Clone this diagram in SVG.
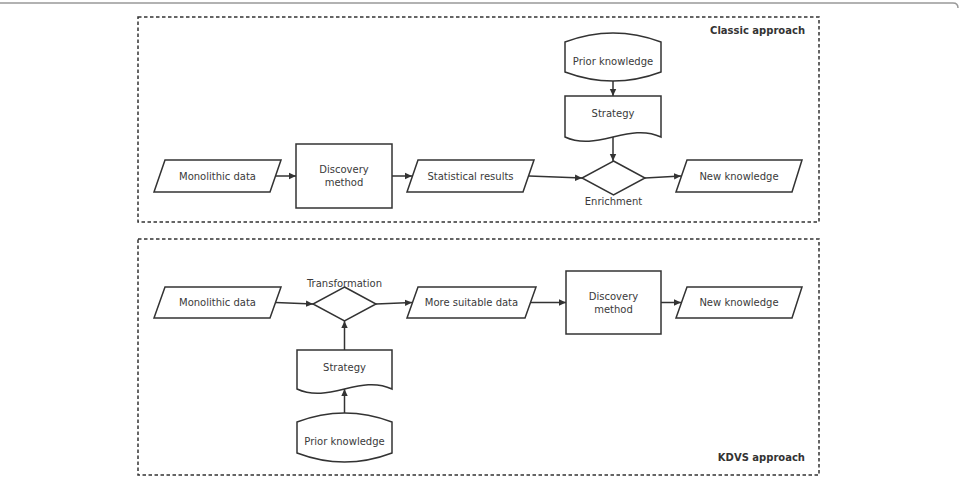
<svg xmlns="http://www.w3.org/2000/svg" width="960" height="480" viewBox="0 0 960 480">
<defs>
<marker id="ah" markerWidth="8" markerHeight="8" refX="7" refY="4" orient="auto" markerUnits="userSpaceOnUse">
<path d="M0,0.8 L7,4 L0,7.2 Z" fill="#333"/>
</marker>
<style>
.sh{fill:#fff;stroke:#333;stroke-width:1.5}
.pn{fill:none;stroke:#333;stroke-width:1.5;stroke-dasharray:3.5 2.5}
.cn{fill:none;stroke:#333;stroke-width:1.5;marker-end:url(#ah)}
.t{font-family:"DejaVu Sans",sans-serif;font-size:10px;fill:#3a3a3a;text-anchor:middle}
.b{font-family:"DejaVu Sans",sans-serif;font-size:10px;font-weight:bold;fill:#333;text-anchor:end}
</style>
</defs>
<path d="M0,3 L953,3 Q958,3 958,8" fill="none" stroke="#999" stroke-width="1.5"/>
<g id="panel-classic">
<rect class="pn" x="138" y="17" width="681" height="205"/>
<text class="b" x="805" y="33.5">Classic approach</text>
</g>
<g id="panel-kdvs">
<rect class="pn" x="138" y="239" width="681" height="236"/>
<text class="b" x="805" y="460.5">KDVS approach</text>
</g>
<g id="connectors">
<line class="cn" x1="275" y1="176" x2="296" y2="176"/>
<line class="cn" x1="392" y1="176" x2="412" y2="176"/>
<line class="cn" x1="529" y1="176" x2="582" y2="178"/>
<line class="cn" x1="645" y1="178" x2="681" y2="176"/>
<line class="cn" x1="613" y1="81" x2="613" y2="96"/>
<line class="cn" x1="613" y1="137" x2="613" y2="161"/>
<line class="cn" x1="275.5" y1="302.5" x2="313" y2="304"/>
<line class="cn" x1="376" y1="304" x2="412" y2="302.5"/>
<line class="cn" x1="530.5" y1="302.5" x2="566" y2="302.5"/>
<line class="cn" x1="661" y1="302.5" x2="681" y2="302.5"/>
<line class="cn" x1="344.5" y1="350" x2="344.5" y2="321"/>
<line class="cn" x1="344.5" y1="413" x2="344.5" y2="389"/>
</g>
<g id="c-monolithic">
<path class="sh" d="M165,160 L281,160 L270,192 L154,192 Z"/>
<text class="t" x="217.5" y="179.5">Monolithic data</text>
</g>
<g id="c-discovery">
<rect class="sh" x="296" y="144" width="96" height="64"/>
<text class="t" x="344" y="172.5">Discovery</text>
<text class="t" x="344" y="185.5">method</text>
</g>
<g id="c-statistical">
<path class="sh" d="M418,160 L534,160 L523,192 L407,192 Z"/>
<text class="t" x="470.5" y="179.5">Statistical results</text>
</g>
<g id="c-prior">
<path class="sh" d="M565,42 Q613,24 661,42 L661,72 Q613,90 565,72 Z"/>
<text class="t" x="613" y="64.5">Prior knowledge</text>
</g>
<g id="c-strategy">
<path class="sh" d="M565,96 L661,96 L661,137 C629,122 597,152 565,137 Z"/>
<text class="t" x="613" y="116.5">Strategy</text>
</g>
<g id="c-enrichment">
<path class="sh" d="M613.5,161 L645,178 L613.5,195 L582,178 Z"/>
<text class="t" x="613.5" y="204.5">Enrichment</text>
</g>
<g id="c-new">
<path class="sh" d="M687,160 L802,160 L792,192 L676,192 Z"/>
<text class="t" x="739" y="179.5">New knowledge</text>
</g>
<g id="k-monolithic">
<path class="sh" d="M165,287 L281,287 L270,318 L154,318 Z"/>
<text class="t" x="217.5" y="306">Monolithic data</text>
</g>
<g id="k-transformation">
<path class="sh" d="M344.5,287 L376,304 L344.5,321 L313,304 Z"/>
<text class="t" x="344.5" y="286.5">Transformation</text>
</g>
<g id="k-suitable">
<path class="sh" d="M418,287 L536,287 L525,318 L407,318 Z"/>
<text class="t" x="471.5" y="306">More suitable data</text>
</g>
<g id="k-discovery">
<rect class="sh" x="566" y="271" width="95" height="63"/>
<text class="t" x="613.5" y="299.5">Discovery</text>
<text class="t" x="613.5" y="312.5">method</text>
</g>
<g id="k-new">
<path class="sh" d="M687,287 L802,287 L792,318 L676,318 Z"/>
<text class="t" x="739" y="306">New knowledge</text>
</g>
<g id="k-strategy">
<path class="sh" d="M297,350 L392,350 L392,389 C360,374 329,404 297,389 Z"/>
<text class="t" x="344.5" y="370.5">Strategy</text>
</g>
<g id="k-prior">
<path class="sh" d="M297,422 Q344.5,404 392,422 L392,453 Q344.5,471 297,453 Z"/>
<text class="t" x="344.5" y="444.5">Prior knowledge</text>
</g>
</svg>
